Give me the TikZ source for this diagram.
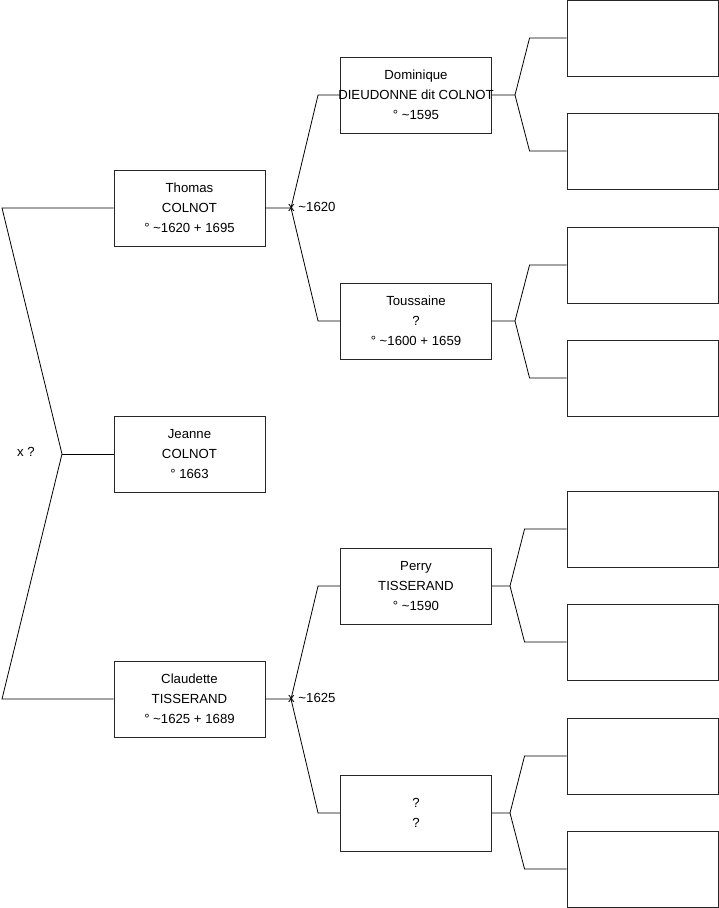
\documentclass[tikz,border=0pt]{standalone}
\usepackage{fontspec}
\setmainfont{Liberation Sans}
\usetikzlibrary{positioning,calc}

\tikzset{
    person/.style={draw=black!85, line width=0.9pt, minimum width=151pt, minimum height=76pt,
        inner sep=0pt, align=center, font=\fontsize{13.2}{20}\selectfont},
    link/.style={line width=0.8pt, black},
    note/.style={font=\fontsize{13.2}{15}\selectfont, inner sep=0pt}
}

\begin{document}
\begin{tikzpicture}[x=1pt,y=-1pt]
    \useasboundingbox (0,0) rectangle (719,908);

    % Generation 1
    \node[person] (thomas) at (189.5,208) {Thomas\\COLNOT\\° \textasciitilde1620 + 1695};
    \node[person] (jeanne) at (189.5,454) {Jeanne\\COLNOT\\° 1663};
    \node[person] (claudette) at (189.5,699) {Claudette\\TISSERAND\\° \textasciitilde1625 + 1689};

    % Generation 2
    \node[person] (dominique) at (416,95) {Dominique\\\makebox[0pt]{DIEUDONNE dit COLNOT}\\° \textasciitilde1595};
    \node[person] (toussaine) at (416,321) {Toussaine\\?\\° \textasciitilde1600 + 1659};
    \node[person] (perry) at (416,586) {Perry\\TISSERAND\\° \textasciitilde1590};
    \node[person] (unknown) at (416,813) {?\\?};

    % Generation 3 (empty)
    \node[person] (p1) at (642.5,38) {};
    \node[person] (p2) at (642.5,151) {};
    \node[person] (p3) at (642.5,265) {};
    \node[person] (p4) at (642.5,378) {};
    \node[person] (p5) at (642.5,529) {};
    \node[person] (p6) at (642.5,642) {};
    \node[person] (p7) at (642.5,756) {};
    \node[person] (p8) at (642.5,869) {};

    % Parents of Jeanne
    \coordinate (fJ) at (62,454);
    \coordinate (lT) at (2,208);
    \coordinate (lC) at (2,699);
    \draw[link] (thomas.west) -- (lT) -- (fJ) -- (lC) -- (claudette.west);
    \draw[link] (fJ) -- (jeanne.west);
    \node[note] (mJ) at (26,452) {x ?};

    % Parents of Thomas
    \coordinate (fT) at (291,208);
    \draw[link] (thomas.east) -- (fT) -- ([xshift=-22pt]dominique.west) -- (dominique.west);
    \draw[link] (fT) -- ([xshift=-22pt]toussaine.west) -- (toussaine.west);
    \node[note, anchor=west] (mT) at ([xshift=-3pt,yshift=1pt]fT) {x \textasciitilde1620};

    % Parents of Claudette
    \coordinate (fC) at (291,699);
    \draw[link] (claudette.east) -- (fC) -- ([xshift=-22pt]perry.west) -- (perry.west);
    \draw[link] (fC) -- ([xshift=-22pt]unknown.west) -- (unknown.west);
    \node[note, anchor=west] (mC) at ([xshift=-3pt,yshift=1pt]fC) {x \textasciitilde1625};

    % Grandparents
    \foreach \child/\fx/\kx/\up/\down in {dominique/515/37/p1/p2, toussaine/515/37/p3/p4,
                                          perry/510/42/p5/p6, unknown/510/42/p7/p8} {
        \coordinate (f\child) at (\fx,0 |- \child.east);
        \draw[link] (\child.east) -- (f\child) -- ([xshift=-\kx pt]\up.west) -- (\up.west);
        \draw[link] (f\child) -- ([xshift=-\kx pt]\down.west) -- (\down.west);
    }
\end{tikzpicture}
\end{document}
